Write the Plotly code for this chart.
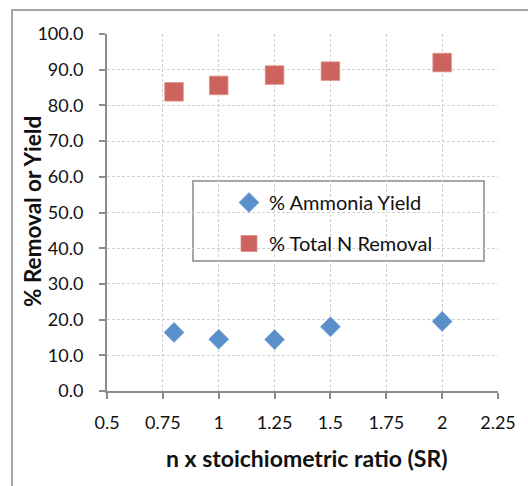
import plotly.graph_objects as go

# Multiples of the stoichiometric ratio tested
sr = [0.8, 1.0, 1.25, 1.5, 2.0]

# Measured percentages at each SR
ammonia_yield = [16.4, 14.5, 14.4, 18.0, 19.5]
total_n_removal = [83.8, 85.6, 88.5, 89.6, 92.0]

x_ticks = [0.5, 0.75, 1, 1.25, 1.5, 1.75, 2, 2.25]
x_tick_text = ["0.5", "0.75", "1", "1.25", "1.5", "1.75", "2", "2.25"]
y_ticks = [0, 10, 20, 30, 40, 50, 60, 70, 80, 90, 100]

FONT = "Lato, Carlito, Calibri, sans-serif"
AXIS_GRAY = "#8c8c8c"
GRID_GRAY = "#d0d0d0"

fig = go.Figure()
fig.add_trace(go.Scatter(
    x=sr, y=ammonia_yield, mode="markers", name="% Ammonia Yield",
    legendgroup="a",
    marker=dict(symbol="diamond", size=15.5, color="#5b8fca",
                line=dict(width=0.5, color="#7aa6d8")),
))
fig.add_trace(go.Scatter(
    x=sr, y=total_n_removal, mode="markers", name="% Total N Removal",
    legendgroup="b",
    marker=dict(symbol="square", size=18.5, color="#cc635d",
                line=dict(width=0.8, color="#e08a85")),
))

L, R, T, B = 107, 30, 34, 95
W, H = 528, 486
pw, ph = W - L - R, H - T - B


def px_x(p):
    return (p - L) / pw


def px_y(p):
    return (H - B - p) / ph


fig.update_layout(
    width=W, height=H,
    margin=dict(l=L, r=R, t=T, b=B),
    paper_bgcolor="white", plot_bgcolor="white",
    font=dict(family=FONT, size=18, color="#111111"),
    showlegend=True,
    legend=dict(
        x=px_x(229), y=px_y(183), xanchor="left", yanchor="top",
        bgcolor="rgba(0,0,0,0)", borderwidth=0,
        font=dict(family=FONT, size=20, color="#111111"),
        tracegroupgap=12,
    ),
    xaxis=dict(
        range=[0.5, 2.25], tickvals=x_ticks, ticktext=x_tick_text,
        showline=True, linecolor=AXIS_GRAY, linewidth=2,
        ticks="outside", ticklen=6, tickwidth=2, tickcolor=AXIS_GRAY,
        showgrid=True, gridcolor=GRID_GRAY, gridwidth=1, griddash="3px,2px",
        zeroline=False, ticklabelstandoff=8,
    ),
    yaxis=dict(
        range=[0, 100], tickvals=y_ticks, tickformat=".1f",
        showline=True, linecolor=AXIS_GRAY, linewidth=2,
        ticks="outside", ticklen=6, tickwidth=2, tickcolor=AXIS_GRAY,
        showgrid=True, gridcolor=GRID_GRAY, gridwidth=1, griddash="3px,2px",
        zeroline=False, ticklabelstandoff=12,
    ),
    annotations=[
        dict(text="<b>n x stoichiometric ratio (SR)</b>",
             xref="paper", yref="paper", x=px_x(307), y=px_y(458),
             xanchor="center", yanchor="middle", showarrow=False,
             font=dict(family=FONT, size=23, color="#111111")),
        dict(text="<b>% Removal or Yield</b>", textangle=-90,
             xref="paper", yref="paper", x=px_x(32), y=px_y(212),
             xanchor="center", yanchor="middle", showarrow=False,
             font=dict(family=FONT, size=22.5, color="#111111")),
    ],
    shapes=[
        # chart frame
        dict(type="rect", xref="paper", yref="paper",
             x0=px_x(12), x1=px_x(545), y0=px_y(505), y1=px_y(10),
             line=dict(color="#a6a6a6", width=2), fillcolor="rgba(0,0,0,0)",
             layer="below"),
        # legend box
        dict(type="rect", xref="paper", yref="paper",
             x0=px_x(193), x1=px_x(484), y0=px_y(261), y1=px_y(181),
             line=dict(color="#a6a6a6", width=2), fillcolor="white",
             layer="between"),
    ],
)

fig.write_html("out.html")
